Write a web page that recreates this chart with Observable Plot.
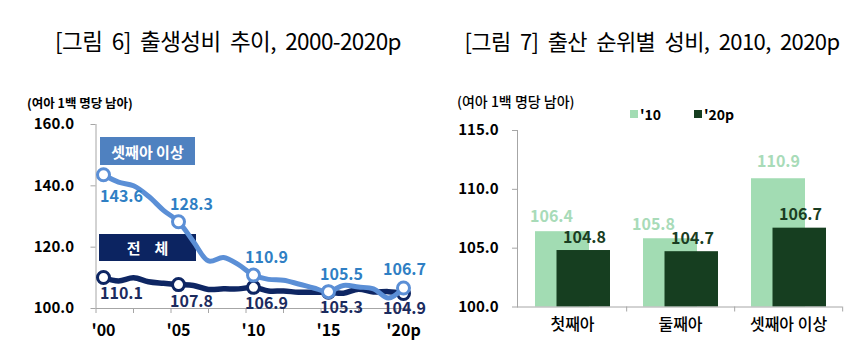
<!DOCTYPE html>
<html>
<head>
<meta charset="utf-8">
<script src="https://cdn.jsdelivr.net/npm/d3@7"></script>
<script src="https://cdn.jsdelivr.net/npm/@observablehq/plot@0.6"></script>
<style>
  html, body { margin: 0; padding: 0; background: #fff; }
  body { width: 867px; height: 363px; position: relative; overflow: hidden; font-family: "Noto Sans CJK KR", "Noto Sans", sans-serif; }
  .abs { position: absolute; white-space: nowrap; }
  .title { font-size: 22px; font-weight: 400; color: #000; transform: translateX(-50%); letter-spacing: -0.6px; word-spacing: 5px; }
  .unit { font-weight: 700; color: #000; }
  .box { color: #fff; font-weight: 700; font-size: 15px; display: flex; align-items: center; justify-content: center; }
  .sw { width: 8px; height: 8px; }
  .lg { font-size: 14px; font-weight: 700; line-height: 14px; }
  svg { position: absolute; top: 0; overflow: visible; }
</style>
</head>
<body>
<div class="abs title" style="left:228px; top:24px; font-size:22.5px;">[그림 6] 출생성비 추이, 2000-2020p</div>
<div class="abs title" style="left:652px; top:24px;">[그림 7] 출산 순위별 성비, 2010, 2020p</div>
<div class="abs unit" style="left:27px; top:93px; font-size:12.5px;">(여아 1백 명당 남아)</div>
<div class="abs unit" style="left:457px; top:91px; font-size:14px; font-weight:500;">(여아 1백 명당 남아)</div>
<div class="abs box" style="left:100px; top:137px; width:95px; height:28px; background:#4f81c0;">셋째아 이상</div>
<div class="abs box" style="left:99px; top:234px; width:97px; height:27px; background:#0c2461; letter-spacing:14px; text-indent:14px;">전체</div>
<div class="abs sw" style="left:630px; top:110px; background:#a2dcb3;"></div>
<div class="abs lg" style="left:640px; top:107px;">'10</div>
<div class="abs sw" style="left:694px; top:110px; background:#163e20;"></div>
<div class="abs lg" style="left:704px; top:107px;">'20p</div>
<div id="left"></div>
<div id="right"></div>
<script>
// ---- data: figure 6 ----
const years = [2000,2001,2002,2003,2004,2005,2006,2007,2008,2009,2010,2011,2012,2013,2014,2015,2016,2017,2018,2019,2020];
const totalRatio = [110.1,109.0,110.0,108.7,108.2,107.8,107.5,106.2,106.4,106.4,106.9,105.7,105.7,105.3,105.3,105.3,105.0,106.3,105.4,105.5,104.9];
const thirdRatio = [143.6,141.2,140.0,136.6,132.0,128.3,121.8,115.5,116.6,114.3,110.9,109.5,109.2,108.0,106.7,105.5,107.5,107.0,106.4,103.4,106.7];
const markedYears = [2000,2005,2010,2015,2020];
const xTickLabels = ["'00","'05","'10","'15","'20p"];
const yTicksLeft = [100,120,140,160];

// ---- data: figure 7 ----
const birthOrder = ["첫째아","둘째아","셋째아 이상"];
const ratio2010 = [106.4,105.8,110.9];
const ratio2020 = [104.8,104.7,106.7];
const yTicksRight = [100,105,110,115];

const NUMFONT = "'Noto Sans CJK KR', 'Open Sans', sans-serif";
const AX = "#a6a6a6";
const LIGHT = "#5b8fd6", DARK = "#0e2663";
const LIGHTTXT = "#2f7fc4", DARKTXT = "#1b2b5e";

const rows = years.map((y, i) => ({year: y, total: totalRatio[i], third: thirdRatio[i]}));
const marked = rows.filter(d => markedYears.includes(d.year));
const fmt = v => v.toFixed(1);
const lbl = (key, filt, dx, dy, fill) => Plot.text(marked.filter(filt), {
  x: "year", y: key, text: d => fmt(d[key]), dx, dy, fill,
  fontSize: 16, fontWeight: "bold", fontFamily: NUMFONT
});

const left = Plot.plot({
  width: 430, height: 363,
  marginTop: 124, marginBottom: 55, marginLeft: 95.5, marginRight: 19.5,
  x: {domain: [1999.5, 2020.5], label: null},
  y: {domain: [100, 160], label: null},
  style: {background: "transparent", fontFamily: NUMFONT, overflow: "visible"},
  marks: [
    Plot.ruleX([1999.5], {stroke: AX}),
    Plot.ruleY([100], {stroke: AX}),
    Plot.axisY({ticks: yTicksLeft, tickSize: 5, tickPadding: 17, tickFormat: fmt, label: null,
      stroke: AX, fill: "#000", fontSize: 15, fontWeight: "bold"}),
    Plot.axisX({ticks: d3.range(1999.5, 2020, 2.5), tickSize: 5, tickFormat: () => "", label: null, stroke: AX}),
    Plot.axisX({ticks: markedYears, tickSize: 0, tickPadding: 16, label: null,
      tickFormat: d => xTickLabels[markedYears.indexOf(d)],
      fill: "#000", fontSize: 16, fontWeight: "bold"}),
    Plot.line(rows, {x: "year", y: "total", stroke: DARK, strokeWidth: 5.5, curve: "catmull-rom"}),
    Plot.dot(marked, {x: "year", y: "total", r: 6, fill: "#fff", stroke: DARK, strokeWidth: 3}),
    Plot.line(rows, {x: "year", y: "third", stroke: LIGHT, strokeWidth: 5, curve: "catmull-rom"}),
    Plot.dot(marked, {x: "year", y: "third", r: 6, fill: "#fff", stroke: LIGHT, strokeWidth: 3}),
    lbl("third", d => d.year === 2000, 18, 22, LIGHTTXT),
    lbl("third", d => d.year > 2000 && d.year < 2020, 13, -17, LIGHTTXT),
    lbl("third", d => d.year === 2020, 1, -18, LIGHTTXT),
    lbl("total", d => d.year === 2000, 18, 16, DARKTXT),
    lbl("total", d => d.year > 2000 && d.year < 2015, 13, 17, DARKTXT),
    lbl("total", d => d.year === 2015, 13, 16, DARKTXT),
    lbl("total", d => d.year === 2020, 1, 15, DARKTXT)
  ]
});
left.style.left = "0px";
document.getElementById("left").appendChild(left);

const bars = birthOrder.map((o, i) => ({order: o, v10: ratio2010[i], v20: ratio2020[i]}));
const BAND = 325 / 3;
const right = Plot.plot({
  width: 437, height: 363,
  marginTop: 130, marginBottom: 56.5, marginLeft: 87, marginRight: 25,
  x: {domain: birthOrder, padding: 0, label: null},
  y: {domain: [100, 115], label: null},
  style: {background: "transparent", fontFamily: NUMFONT, overflow: "visible"},
  marks: [
    Plot.barY(bars, {x: "order", y1: 100, y2: "v10", fill: "#a2dcb3", insetLeft: 17, insetRight: 37}),
    Plot.barY(bars, {x: "order", y1: 100, y2: "v20", fill: "#163e20", insetLeft: 38.5, insetRight: 16}),
    Plot.frame({anchor: "left", stroke: AX}),
    Plot.ruleY([100], {stroke: AX}),
    Plot.axisY({ticks: yTicksRight, tickSize: 5, tickPadding: 14, tickFormat: fmt, label: null,
      stroke: AX, fill: "#000", fontSize: 15, fontWeight: "bold"}),
    Plot.axisX({tickSize: 5, tickFormat: () => "", label: null, stroke: AX, dx: BAND / 2}),
    Plot.axisX({tickSize: 0, tickPadding: 12, label: null, fill: "#000", fontSize: 16, fontWeight: 500}),
    Plot.text(bars.filter((d, i) => i === 0), {x: "order", y: "v10", text: d => fmt(d.v10), dx: -21, dy: -15, fill: "#a8dbb8", fontSize: 16, fontWeight: "bold"}),
    Plot.text(bars.filter((d, i) => i === 1), {x: "order", y: "v10", text: d => fmt(d.v10), dx: -27, dy: -14, fill: "#a8dbb8", fontSize: 16, fontWeight: "bold"}),
    Plot.text(bars.filter((d, i) => i === 2), {x: "order", y: "v10", text: d => fmt(d.v10), dx: -10, dy: -17, fill: "#a8dbb8", fontSize: 16, fontWeight: "bold"}),
    Plot.text(bars, {x: "order", y: "v20", text: d => fmt(d.v20), dx: 12, dy: -13, fill: "#1a3d22", fontSize: 16, fontWeight: "bold"})
  ]
});
right.style.left = "430px";
document.getElementById("right").appendChild(right);
</script>
</body>
</html>
